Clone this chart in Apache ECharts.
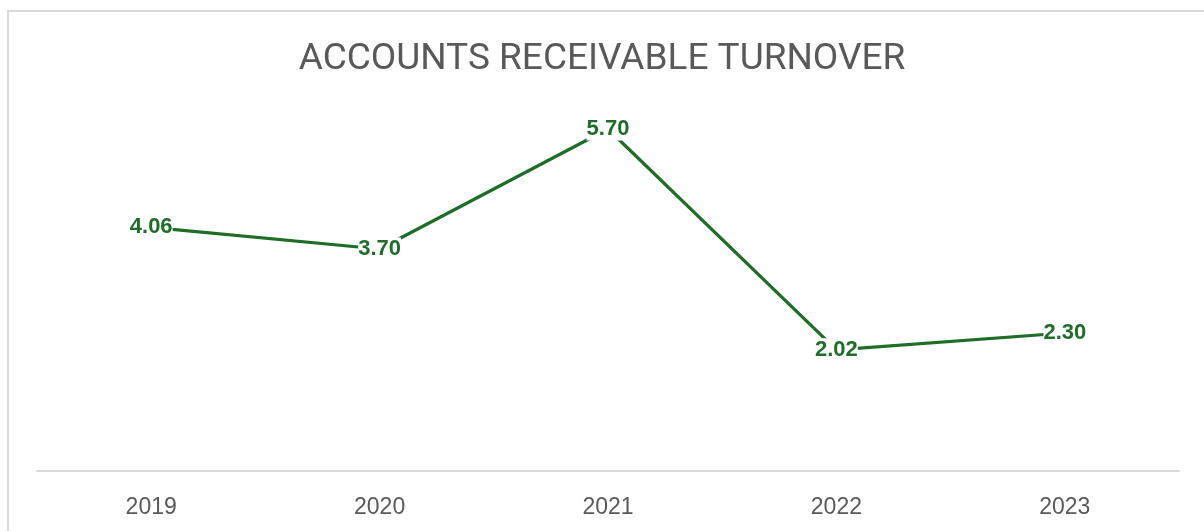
<!DOCTYPE html>
<html>
<head>
<meta charset="utf-8">
<title>Accounts Receivable Turnover</title>
<script src="https://cdn.jsdelivr.net/npm/echarts@6/dist/echarts.min.js"></script>
<style>
  html, body { margin: 0; padding: 0; background: #ffffff; }
  #chart { width: 1204px; height: 531px; }
</style>
</head>
<body>
<div id="chart"></div>
<script>
// Fiscal years on the category axis
const years = ['2019', '2020', '2021', '2022', '2023'];
// Accounts receivable turnover ratio per year
const turnover = [4.06, 3.70, 5.70, 2.02, 2.30];

const GREEN = '#1E6E28';
const GREY_TEXT = '#595959';
const GREY_LINE = '#D9D9D9';

const chart = echarts.init(document.getElementById('chart'), null, { renderer: 'canvas' });

chart.setOption({
  backgroundColor: '#ffffff',
  animation: false,
  title: {
    text: 'ACCOUNTS RECEIVABLE TURNOVER',
    left: 'center',
    top: 36,
    textStyle: {
      fontFamily: 'Roboto, "Liberation Sans", Arial, sans-serif',
      fontSize: 37,
      fontWeight: 'normal',
      color: GREY_TEXT
    }
  },
  // light frame around the chart area
  graphic: [{
    type: 'rect',
    silent: true,
    shape: { x: 8, y: 11, width: 1300, height: 700 },
    style: { fill: 'none', stroke: GREY_LINE, lineWidth: 2 }
  }],
  grid: { left: 37, right: 25, top: 111, bottom: 60 },
  xAxis: {
    type: 'category',
    data: years,
    boundaryGap: true,
    axisLine: { show: true, lineStyle: { color: GREY_LINE, width: 2 } },
    axisTick: { show: false },
    axisLabel: {
      margin: 25,
      fontSize: 23,
      color: GREY_TEXT,
      fontFamily: '"Liberation Sans", Arial, sans-serif'
    },
    splitLine: { show: false }
  },
  yAxis: {
    type: 'value',
    min: 0,
    max: 6,
    interval: 1,
    show: false,
    splitLine: { show: false }
  },
  series: [{
    type: 'line',
    data: turnover,
    symbol: 'circle',
    symbolSize: 0.01,
    showSymbol: true,
    lineStyle: { color: GREEN, width: 3.2 },
    itemStyle: { color: GREEN },
    label: {
      show: true,
      position: 'inside',
      formatter: (p) => p.value.toFixed(2),
      fontFamily: '"Liberation Sans", Arial, sans-serif',
      fontSize: 22,
      fontWeight: 'bold',
      color: GREEN,
      backgroundColor: '#ffffff',
      padding: [1, 0, 0, 0]
    }
  }]
});
</script>
</body>
</html>
